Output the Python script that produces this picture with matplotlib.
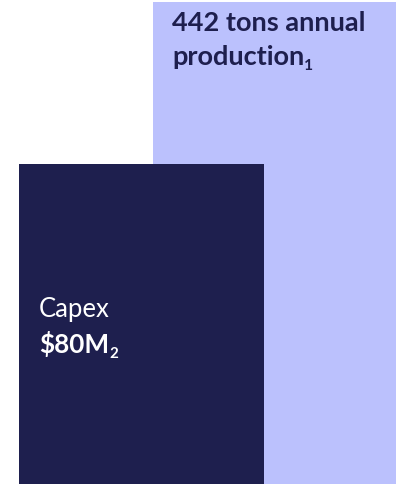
import matplotlib
matplotlib.use("Agg")
import matplotlib.pyplot as plt

# Data
categories = ["442 tons annual production", "Capex $80M"]
bar_left = [153, 19]
bar_width = [243, 245]
bar_height = [482, 320]
colors = ["#BBC1FD", "#1E1F4E"]

W, H = 396, 484
fig = plt.figure(figsize=(W / 100, H / 100), dpi=100)
ax = fig.add_axes([0, 0, 1, 1])
ax.set_xlim(0, W)
ax.set_ylim(0, H)
ax.axis("off")

for l, w, h, c in zip(bar_left, bar_width, bar_height, colors):
    ax.bar(l, h, width=w, align="edge", color=c, linewidth=0)

FONT = "Lato"
fig.canvas.draw()
renderer = fig.canvas.get_renderer()


def text_with_sub(x, y, main, sub, size, weight, color):
    t = ax.text(x, y, main, fontsize=size, fontweight=weight, color=color,
                family=FONT, va="baseline", ha="left")
    bb = t.get_window_extent(renderer=renderer)
    inv = ax.transData.inverted()
    x1, _ = inv.transform((bb.x1, bb.y0))
    ax.text(x1, y - 5, sub, fontsize=size * 0.58, fontweight=weight,
            color=color, family=FONT, va="baseline", ha="left")


ax.text(172, 453, "442 tons annual", fontsize=19.5, fontweight="bold",
        color="#1E1F4E", family=FONT, va="baseline", ha="left")
text_with_sub(172, 419, "production", "1", 19.5, "bold", "#1E1F4E")

ax.text(39, 167, "Capex", fontsize=18.5, fontweight="normal",
        color="white", family=FONT, va="baseline", ha="left")
text_with_sub(39, 131, "$80M", "2", 18.8, "bold", "white")

fig.savefig("out.png", dpi=100)
